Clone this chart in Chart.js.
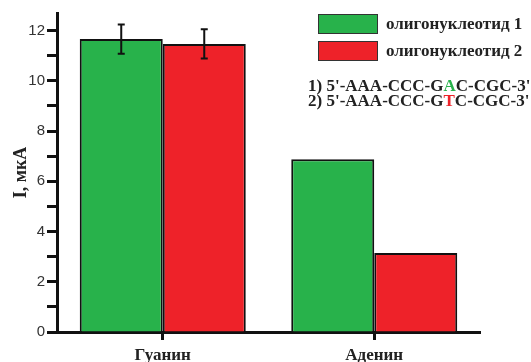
<!DOCTYPE html>
<html>
<head>
<meta charset="utf-8">
<script src="https://cdn.jsdelivr.net/npm/chart.js@4.4.1/dist/chart.umd.min.js"></script>
<style>
  html, body { margin: 0; padding: 0; background: #fff; }
  #wrap { position: relative; width: 531px; height: 362px; overflow: hidden; }
  canvas { position: absolute; left: 0; top: 0; }
  .box { position: absolute; left: 318px; width: 60px; height: 20px; border: 1px solid #333; box-sizing: border-box; }
  .txt { position: absolute; font: bold 17px "Liberation Serif", serif; color: #222; white-space: nowrap; line-height: 20px; }
</style>
</head>
<body>
<div id="wrap">
  <canvas id="chart" width="531" height="362"></canvas>
  <div class="box" style="top:14px;background:#28b24b"></div>
  <div class="box" style="top:41px;background:#ee2229"></div>
  <div class="txt" style="left:386px;top:14px">олигонуклеотид 1</div>
  <div class="txt" style="left:386px;top:41px">олигонуклеотид 2</div>
  <div class="txt" style="left:308px;top:76px">1) 5'-AAA-CCC-G<span style="color:#28b24b">A</span>C-CGC-3'</div>
  <div class="txt" style="left:308px;top:91px">2) 5'-AAA-CCC-G<span style="color:#ee2229">T</span>C-CGC-3'</div>
</div>
<script>
// данные графика
const categories = ['Гуанин', 'Аденин'];
const oligo1 = [11.66, 6.88];
const oligo2 = [11.47, 3.15];
const oligo1Err = [0.58, null];
const oligo2Err = [0.58, null];
const seriesNames = ['олигонуклеотид 1', 'олигонуклеотид 2'];

const errorBars = {
  id: 'errorBars',
  afterDatasetsDraw(chart) {
    const ctx = chart.ctx;
    const y = chart.scales.y;
    const errs = [oligo1Err, oligo2Err];
    chart.data.datasets.forEach((ds, di) => {
      const meta = chart.getDatasetMeta(di);
      meta.data.forEach((bar, i) => {
        const e = errs[di][i];
        if (e == null) return;
        const v = ds.data[i];
        const top = y.getPixelForValue(v + e);
        const bot = y.getPixelForValue(v - e);
        ctx.save();
        ctx.strokeStyle = '#111';
        ctx.lineWidth = 2;
        ctx.beginPath();
        ctx.moveTo(bar.x, top); ctx.lineTo(bar.x, bot);
        ctx.moveTo(bar.x - 3.5, top); ctx.lineTo(bar.x + 3.5, top);
        ctx.moveTo(bar.x - 3.5, bot); ctx.lineTo(bar.x + 3.5, bot);
        ctx.stroke();
        ctx.restore();
      });
    });
  }
};

new Chart(document.getElementById('chart'), {
  type: 'bar',
  data: {
    labels: categories,
    datasets: [
      { label: seriesNames[0], data: oligo1, backgroundColor: '#28b24b', borderColor: '#111', borderWidth: 2 },
      { label: seriesNames[1], data: oligo2, backgroundColor: '#ee2229', borderColor: '#111', borderWidth: 2 }
    ]
  },
  options: {
    responsive: false,
    animation: false,
    devicePixelRatio: 1,
    layout: { padding: { top: 13, right: 51, left: 0, bottom: 0 } },
    plugins: { legend: { display: false }, tooltip: { enabled: false } },
    datasets: { bar: { categoryPercentage: 0.785, barPercentage: 1 } },
    scales: {
      x: {
        afterFit: s => { s.height = 30; },
        border: { color: '#111', width: 3 },
        grid: { drawOnChartArea: false, offset: false, tickLength: 8, tickWidth: 3, tickColor: '#111' },
        ticks: { color: '#222', padding: 5, font: { family: 'Liberation Serif', weight: 'bold', size: 17 } }
      },
      y: {
        min: 0,
        max: 12.7,
        afterFit: s => { s.width = 57; },
        border: { color: '#111', width: 3 },
        grid: { drawOnChartArea: false, tickLength: 10, tickWidth: 3, tickColor: '#111' },
        ticks: {
          stepSize: 1,
          color: '#333',
          padding: 2,
          font: { family: 'Liberation Sans', size: 15 },
          callback: v => (v % 2 === 0 ? v : '')
        },
        afterBuildTicks: s => { s.ticks = s.ticks.filter(t => Number.isInteger(t.value)); },
        title: {
          display: true,
          text: 'I, мкА',
          color: '#222',
          padding: { top: 11, bottom: 0 },
          font: { family: 'Liberation Serif', weight: 'bold', size: 18 }
        }
      }
    }
  },
  plugins: [errorBars]
});
</script>
</body>
</html>
